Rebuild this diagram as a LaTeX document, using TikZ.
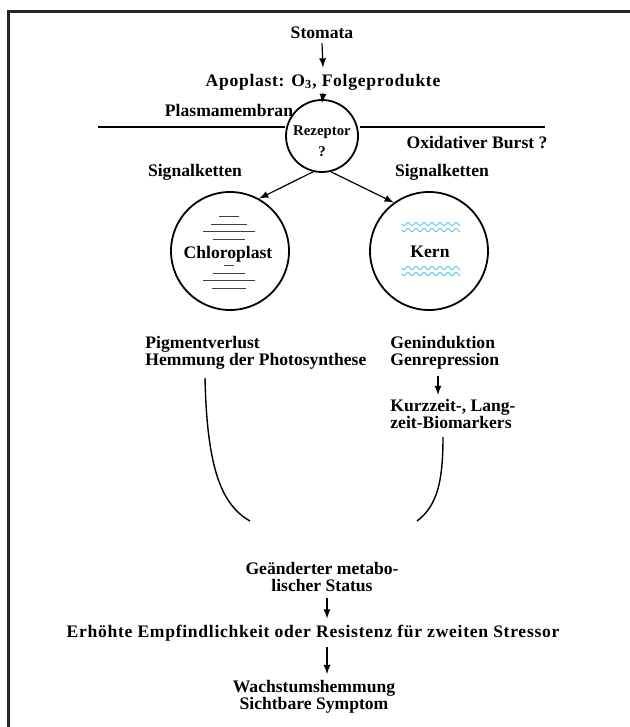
\documentclass[tikz,border=0pt]{standalone}
\usepackage{fontspec}
\setmainfont{Liberation Serif}
\usepackage{tikz}
\definecolor{dnacyan}{RGB}{95,205,235}
\tikzset{
  font={\fontsize{8.8pt}{8.5pt}\selectfont\bfseries}}

\begin{document}
\begin{tikzpicture}[x=0.5pt,y=-0.5pt,>=latex]
\tikzstyle{every node}+=[inner sep=0pt]
\tikzstyle{organelle}=[draw,circle,line width=0.9pt,minimum size=59pt]
\tikzstyle{flow}=[->,line width=0.6pt]
\tikzstyle{wide}=[font={\fontsize{8.8pt}{8.5pt}\selectfont\bfseries\addfontfeature{LetterSpace=4}}]
\tikzstyle{small}=[font={\fontsize{7.4pt}{8pt}\selectfont\bfseries}]
\useasboundingbox (0,0) rectangle (630,727);
\draw [black!85,line width=1.5pt] (630,12) -- (8.5,12) -- (8.5,727);
\node (stomata) at (322,33) {Stomata};
\node [wide] (apoplast) at (323,82) {Apoplast: O\textsubscript{3}, Folgeprodukte};
\node (plasma) at (229,110) {Plasmamembran};
\node [draw,circle,line width=0.9pt,minimum size=36pt] (rez) at (322,136) {};
\node [small] (reztext) at (322,132) {Rezeptor};
\node [small] (rezq) at (322,152) {?};
\coordinate (memLa) at (98,127);
\coordinate (memLb) at (285,127);
\coordinate (memRa) at (360,127);
\coordinate (memRb) at (545,127);
\draw [line width=0.8pt] (memLa) -- (memLb);
\draw [line width=0.8pt] (memRa) -- (memRb);
\node (burst) at (477,143) {Oxidativer Burst ?};
\node (sigL) at (195,172) {Signalketten};
\node (sigR) at (442,172) {Signalketten};
\draw [flow] ([yshift=-2pt]stomata.south) -- ([yshift=3pt]apoplast.north);
\draw [flow] ([yshift=-1.5pt]apoplast.south) -- ([yshift=-2pt]rez.north);
\node [organelle] (chloro) at (230,251) {};
\node [organelle] (kern) at (429,251) {};
\draw [flow] (rez.-104) -- (chloro.61);
\draw [flow] (rez.-76) -- (kern.126);
\foreach \y/\w in {217/20,224/36,231/52,239/32,245/10,265/10,273/32,280/52,288/34}
  \draw [black!75,line width=0.5pt] ({229-\w/2},\y) -- ({229+\w/2},\y);
\node [fill=white,inner sep=1pt] (chlorotext) at (228,254) {Chloroplast};
\foreach \y in {224,230,268,274}
  \draw [dnacyan,line width=0.5pt] plot[domain=0:58,samples=90,smooth] ({402+\x},{\y+1.6*sin(\x*45)});
\node (kerntext) at (430,252) {Kern};
\node [align=left,anchor=north west] (pigment) at (145,336) {Pigmentverlust\\Hemmung der Photosynthese};
\node [align=left,anchor=north west] (gen) at (390,336) {Geninduktion\\Genrepression};
\node [align=left,anchor=north west] (marker) at (390,399) {Kurzzeit-, Lang-\\zeit-Biomarkers};
\draw [flow] ([xshift=24pt,yshift=-3pt]gen.south west) -- ([xshift=24pt,yshift=2pt]marker.north west);
\coordinate (arcLa) at (205,378);
\coordinate (arcLb) at (250,521);
\coordinate (arcRa) at (443,437);
\coordinate (arcRb) at (417,521);
\draw [line width=0.7pt] (arcLa) .. controls (207,470) and (222,505) .. (arcLb);
\draw [line width=0.7pt] (arcRa) .. controls (443,482) and (437,506) .. (arcRb);
\node [align=center] (status) at (322,577) {Geänderter metabo-\\lischer Status};
\node [wide] (stress) at (313,633) {Erhöhte Empfindlichkeit oder Resistenz für zweiten Stressor};
\node [align=center] (wachstum) at (314,697) {Wachstumshemmung\\Sichtbare Symptom};
\draw [flow] ([xshift=2.5pt,yshift=-3pt]status.south) -- ([xshift=2.5pt,yshift=3pt]status.south |- stress.north);
\draw [flow] ([xshift=7pt,yshift=-3pt]stress.south) -- ([xshift=7pt,yshift=3pt]stress.south |- wachstum.north);
\end{tikzpicture}
\end{document}
